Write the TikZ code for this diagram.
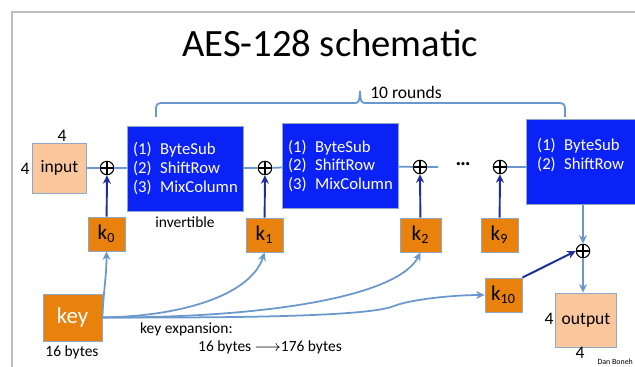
\documentclass[tikz,border=0pt]{standalone}
\usepackage{fontspec}
\setmainfont{Carlito}
\usetikzlibrary{arrows.meta}
\definecolor{aesblue}{HTML}{0A22F5}
\definecolor{keyorange}{HTML}{E8820C}
\definecolor{peach}{HTML}{FAC69C}
\definecolor{wirecol}{HTML}{6A98CC}
\definecolor{darkwire}{HTML}{1F2E9E}
\definecolor{framegray}{HTML}{BDBDBD}
\definecolor{edge}{HTML}{8FA8C8}

\begin{document}
\begin{tikzpicture}[x=0.02cm, y=-0.02cm, >={Stealth[length=1.7mm, width=1.6mm]},
  rnd/.style={fill=aesblue, draw=edge, line width=0.5pt, minimum width=2.22cm, minimum height=1.7cm,
    text=white, align=left, font=\fontsize{9.5}{10.6}\selectfont},
  rndtext/.style={text=white, align=left, font=\fontsize{9.5}{10.6}\selectfont},
  kbox/.style={fill=keyorange, draw=edge, line width=0.5pt, minimum width=0.74cm, minimum height=0.68cm,
    font=\fontsize{12}{12}\selectfont},
  iobox/.style={fill=peach, draw=edge, line width=0.5pt, font=\fontsize{10}{10}\selectfont},
  xor/.style={circle, draw, line width=0.6pt, minimum size=0.27cm, inner sep=0pt,
    path picture={\draw[line width=0.6pt] (path picture bounding box.north) -- (path picture bounding box.south)
      (path picture bounding box.west) -- (path picture bounding box.east);}},
  wire/.style={wirecol, line width=1pt},
  keyarr/.style={darkwire, line width=1.1pt, ->},
  lbl/.style={font=\fontsize{10}{10}\selectfont},
  small/.style={font=\fontsize{8.8}{9}\selectfont}
]
\useasboundingbox (0,0) rectangle (635,367);

% Frame and title
\draw[framegray, line width=0.6pt] (12,380) -- (12,12) -- (640,12);
\node[anchor=base, font=\fontsize{22}{22}\selectfont] (title) at (330,57) {AES-128 schematic};

% 10 rounds bracket
\draw[wire, rounded corners=2.5pt] (156,117) |- (354,103);
\draw[wire] (354,103) .. controls (359,103) .. (360,91) .. controls (361,103) .. (366,103);
\draw[wire, rounded corners=2.5pt] (366,103) -| (565,117);
\node[lbl] (rounds) at (406,92) {10 rounds};

% Input
\node[iobox, minimum width=1.08cm, minimum height=1.0cm] (input) at (59.5,168) {input};
\node[lbl] (in4top) at (62,136) {4};
\node[lbl] (in4left) at (25,169) {4};

% Rounds
\node[xor] (x0) at (107,168) {};
\node[rnd] (r1) at (185.5,168.5) {(1)\enspace ByteSub\\(2)\enspace ShiftRow\\(3)\enspace MixColumn};
\node[small] (inv) at (185,222) {invertible};
\node[xor] (x1) at (265,168) {};
\node[rnd] (r2) at (340.5,166) {(1)\enspace ByteSub\\(2)\enspace ShiftRow\\(3)\enspace MixColumn};
\node[xor] (x2) at (420,167) {};
\coordinate (d2) at (438,167);
\node[font=\fontsize{12}{12}\selectfont\bfseries] (dots) at (463,164) {\textellipsis};
\node[xor] (x9) at (500,167) {};
\node[rnd, minimum width=2.3cm] (r10) at (584,162) {};
\node[rndtext, anchor=west] (r10txt) at (531,155) {(1)\enspace ByteSub\\(2)\enspace ShiftRow};
\node[xor] (x10) at (583,251) {};

% Round keys
\node[kbox] (k0) at (106.5,234) {k\textsubscript{0}};
\node[kbox] (k1) at (264.5,235) {k\textsubscript{1}};
\node[kbox, minimum width=0.82cm] (k2) at (420.5,235) {k\textsubscript{2}};
\node[kbox] (k9) at (499.5,235) {k\textsubscript{9}};
\node[kbox] (k10) at (503.5,295) {k\textsubscript{10}};

% Key
\node[kbox, minimum width=1.18cm, minimum height=0.94cm, text=white, font=\fontsize{13}{13}\selectfont] (key) at (72.5,317.5) {key};
\node[small] (keybytes) at (72,352) {16 bytes};
\node[small, anchor=west] (expand) at (134,329) {key expansion:};
\node[small, anchor=west] (expbytes) at (192,347) {16 bytes $\longrightarrow$176 bytes};

% Output
\node[iobox, minimum width=1.16cm, minimum height=1.08cm] (output) at (586,320) {output};
\node[lbl] (out4left) at (549,319) {4};
\node[lbl] (out4bot) at (580,353) {4};

% Data path
\draw[wire] (input) -- (x0) -- (r1);
\draw[wire] (r1) -- (x1) -- (r2);
\draw[wire] (r2) -- (x2) -- (d2);
\draw[wire] (x9) -- (x9 -| r10.west);
\draw[wire, ->] (x10 |- r10.south) -- (x10.north);
\draw[wire, ->] (x10.south) -- (x10 |- output.north);

% Round keys into XORs
\draw[keyarr] (k0) -- (x0);
\draw[keyarr] (k1) -- (x1);
\draw[keyarr] (k2) -- (x2);
\draw[keyarr] (k9) -- (x9);
\draw[keyarr] (k10.north east) -- (x10.west);

% Key expansion
\draw[wire, ->] (key.east) to[out=88, in=-90] (k0.south);
\draw[wire, ->] (key.east) .. controls (190,316) and (252,292) .. (k1.south);
\draw[wire, ->] (key.east) .. controls (270,318) and (398,296) .. (k2.south);
\draw[wire, ->] (key.east) .. controls (250,318) and (370,316) .. (394,306)
  .. controls (412,299) and (455,295) .. (k10.west);

% Credit
\node[anchor=south east, font=\fontsize{4.5}{5}\selectfont, inner sep=1pt] (credit) at (635,367) {Dan Boneh};
\end{tikzpicture}
\end{document}
